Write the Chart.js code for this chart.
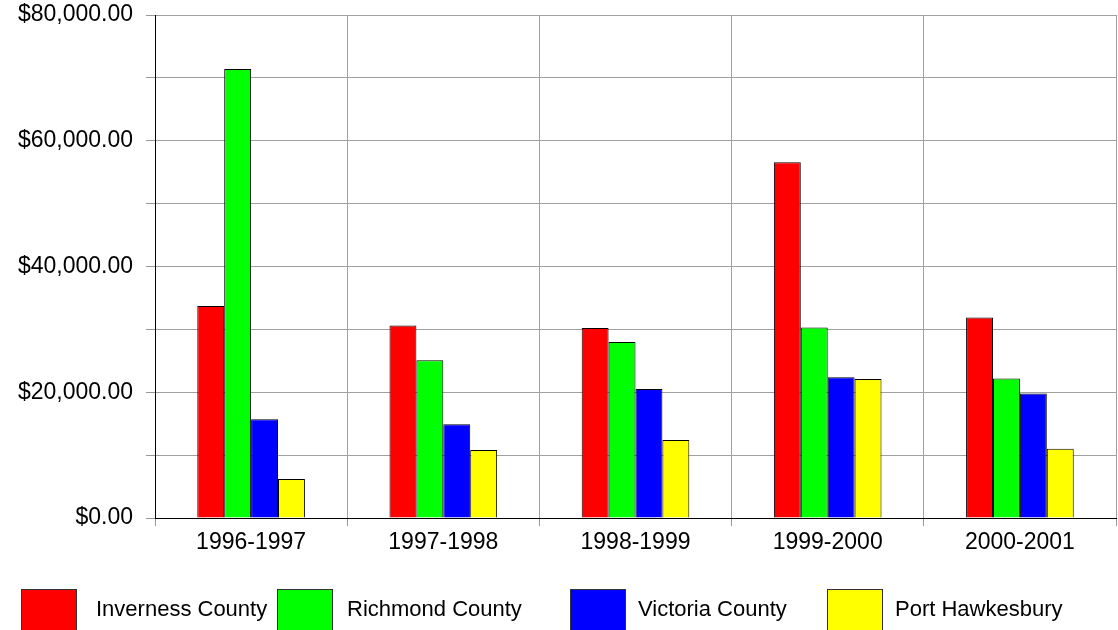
<!DOCTYPE html>
<html>
<head>
<meta charset="utf-8">
<script src="https://cdn.jsdelivr.net/npm/chart.js@4"></script>
<style>
  body { margin: 0; background: #fff; }
  #graphCanvas { display: block; }
</style>
</head>
<body>
<canvas id="graphCanvas" width="1118" height="630"></canvas>
<script>
var years = ['1996-1997', '1997-1998', '1998-1999', '1999-2000', '2000-2001'];

var inverness = [33700, 30600, 30200, 56600, 31900];
var richmond = [71400, 25100, 28000, 30300, 22200];
var victoria = [15700, 14900, 20500, 22400, 19800];
var portHawkesbury = [6200, 10800, 12400, 22100, 11000];

var seriesNames = ['Inverness County', 'Richmond County', 'Victoria County', 'Port Hawkesbury'];
var seriesColors = ['#ff0000', '#00ff00', '#0000ff', '#ffff00'];

var fontFamily = "'Liberation Sans', Arial, sans-serif";

// legend drawn by hand, the items are not evenly spaced in the original
var legendBoxX = [21, 277, 570, 827];
var legendTextX = [96, 347, 638, 895];

var legendPlugin = {
  id: 'bottomLegend',
  afterDraw: function(chart) {
    var ctx = chart.ctx;
    ctx.save();
    ctx.font = '22px ' + fontFamily;
    ctx.textBaseline = 'middle';
    ctx.textAlign = 'left';
    for (var i = 0; i < chart.data.datasets.length; i++) {
      var ds = chart.data.datasets[i];
      ctx.fillStyle = ds.backgroundColor;
      ctx.fillRect(legendBoxX[i], 589, 56, 44);
      ctx.strokeStyle = '#333';
      ctx.lineWidth = 1;
      ctx.strokeRect(legendBoxX[i] + 0.5, 589.5, 55, 44);
      ctx.fillStyle = '#000';
      ctx.fillText(ds.label, legendTextX[i], 610);
    }
    ctx.restore();
  }
};

var ctx = document.getElementById('graphCanvas');

var data = {
  labels: years,
  datasets: [
    { label: seriesNames[0], data: inverness, backgroundColor: seriesColors[0] },
    { label: seriesNames[1], data: richmond, backgroundColor: seriesColors[1] },
    { label: seriesNames[2], data: victoria, backgroundColor: seriesColors[2] },
    { label: seriesNames[3], data: portHawkesbury, backgroundColor: seriesColors[3] }
  ]
};

data.datasets.forEach(function(ds) {
  ds.borderColor = '#000';
  ds.borderWidth = 1;
  ds.categoryPercentage = 0.56;
  ds.barPercentage = 1.0;
});

var options = {
  responsive: false,
  animation: false,
  layout: { padding: { top: 15, right: 2, left: 0, bottom: 0 } },
  plugins: {
    legend: { display: false },
    tooltip: { enabled: false }
  },
  scales: {
    x: {
      afterFit: function(scale) {
        scale.height = 112;
        scale.paddingLeft = 0;
        scale.paddingRight = 0;
      },
      grid: {
        offset: true,
        tickLength: 8,
        tickColor: '#999',
        color: function(c) {
          if (c.index === 0) return '#000';
          if (c.index === years.length) return '#555';
          return '#a0a0a0';
        }
      },
      border: { color: '#000' },
      ticks: {
        color: '#000',
        padding: 3,
        font: { family: fontFamily, size: 23 }
      }
    },
    y: {
      min: 0,
      max: 80000,
      afterFit: function(scale) {
        scale.width = 155;
        scale.paddingTop = 0;
        scale.paddingBottom = 0;
      },
      grid: {
        tickLength: 9,
        tickColor: '#999',
        color: function(c) {
          return c.tick && c.tick.value === 0 ? '#000' : '#a0a0a0';
        }
      },
      border: { color: '#000' },
      ticks: {
        stepSize: 10000,
        color: '#000',
        padding: 13,
        font: { family: fontFamily, size: 23 },
        callback: function(value) {
          if (value % 20000 !== 0) return '';
          return '$' + value.toLocaleString('en-US', { minimumFractionDigits: 2, maximumFractionDigits: 2 });
        }
      }
    }
  }
};

var chart = new Chart(ctx, {
  type: 'bar',
  data: data,
  options: options,
  plugins: [legendPlugin]
});
</script>
</body>
</html>
